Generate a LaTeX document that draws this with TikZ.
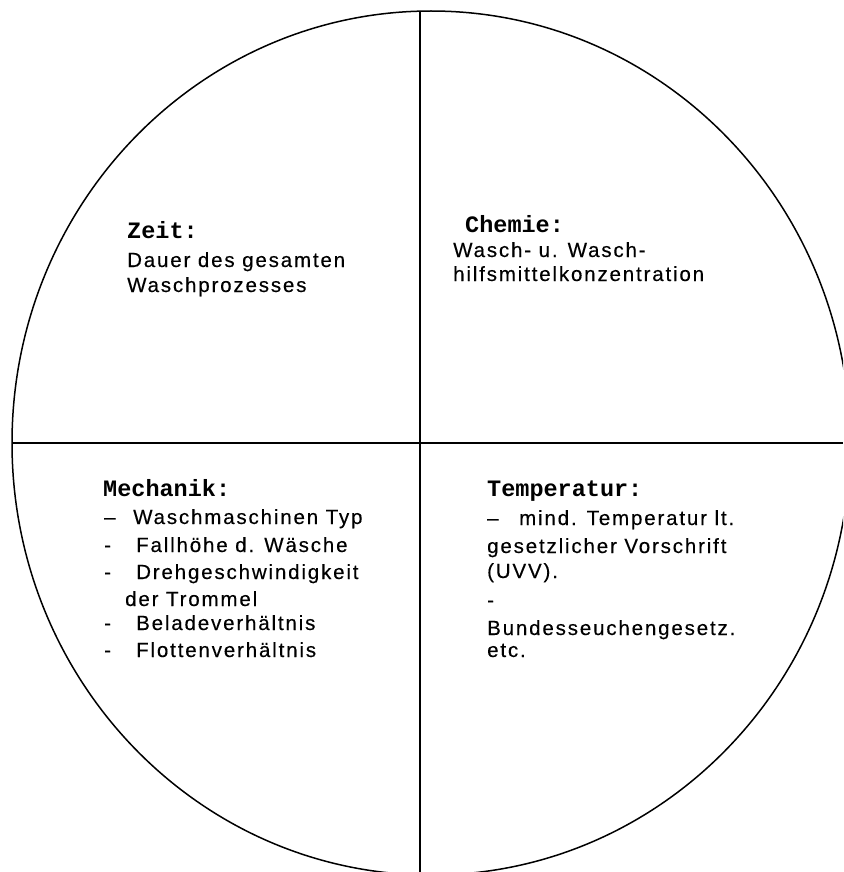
\documentclass[tikz,border=0pt]{standalone}
\usepackage{fontspec}
\newfontfamily\bodyfont[LetterSpace=9,FakeBold=0.3]{Liberation Sans}
\newfontfamily\headfont{Liberation Mono}
\begin{document}
\begin{tikzpicture}[x=1pt,y=-1pt,
  body/.style={anchor=base west, inner sep=0pt, font=\bodyfont\fontsize{20.5}{24}\selectfont},
  head/.style={anchor=base west, inner sep=0pt, font=\headfont\bfseries\fontsize{23.5}{28}\selectfont},
  frame/.style={line width=1.5pt, black}]
\useasboundingbox (0,0) rectangle (843,872);
\clip (0,0) rectangle (843,872);
\fill[white] (0,0) rectangle (843,872);
% circle and dividing lines
\draw[frame] (431,443) ellipse [x radius=419pt, y radius=432pt];
\coordinate (vtop) at (420,11);
\coordinate (vbot) at (420,872);
\coordinate (hleft) at (12,443);
\coordinate (hright) at (843,443);
\draw[frame] (vtop) -- (vbot);
\draw[frame] (hleft) -- (hright);
% Zeit
\node[head] (zeitH) at (127,238) {Zeit:};
\node[body] (zeit1) at (127,267) {Dauer des gesamten};
\node[body] (zeit2) at (127,292) {Waschprozesses};
% Chemie
\node[head] (chemH) at (465,232) {Chemie:};
\node[body] (chem1) at (453,257) {Wasch- u. Wasch-};
\node[body] (chem2) at (453,281) {hilfsmittelkonzentration};
% Mechanik
\node[head] (mechH) at (103,496) {Mechanik:};
\node[body] (md1) at (104,524) {–};
\node[body] (mt1) at (133,524) {Waschmaschinen Typ};
\node[body] (md2) at (104,552) {-};
\node[body] (mt2) at (136,552) {Fallhöhe d. Wäsche};
\node[body] (md3) at (104,579) {-};
\node[body] (mt3) at (136,579) {Drehgeschwindigkeit};
\node[body] (mt3b) at (125,606) {der Trommel};
\node[body] (md4) at (104,630) {-};
\node[body] (mt4) at (136,630) {Beladeverhältnis};
\node[body] (md5) at (104,657) {-};
\node[body] (mt5) at (136,657) {Flottenverhältnis};
% Temperatur
\node[head] (tempH) at (487,496) {Temperatur:};
\node[body] (td1) at (487,525) {–};
\node[body] (tt1) at (519,525) {mind. Temperatur lt.};
\node[body] (tt2) at (487,553) {gesetzlicher Vorschrift};
\node[body] (tt3) at (487,578) {(UVV).};
\node[body] (td2) at (487,607) {-};
\node[body] (tt4) at (487,635) {Bundesseuchengesetz.};
\node[body] (tt5) at (487,657) {etc.};
\end{tikzpicture}
\end{document}
